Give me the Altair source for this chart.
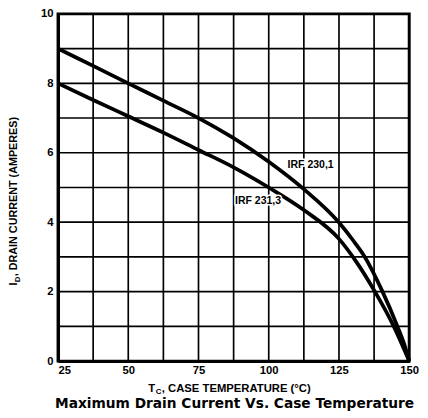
import altair as alt
import pandas as pd

# IRF 230,1 curve
upper_t = [25, 37.5, 50, 62.5, 75, 87.5, 100, 112.5, 125, 130, 134.2, 140.5, 145.8, 148.5, 150]
upper_i = [9.0, 8.5, 8.0, 7.5, 7.0, 6.42, 5.74, 4.95, 3.99, 3.48, 3.0, 2.0, 1.0, 0.42, 0.0]

# IRF 231,3 curve
lower_t = [25, 37.5, 50, 62.5, 75, 87.5, 100, 112.5, 125, 131, 137.8, 144.5, 150]
lower_i = [8.0, 7.52, 7.05, 6.58, 6.08, 5.58, 5.0, 4.35, 3.52, 2.88, 2.0, 1.0, 0.0]

curve_names = ["IRF 230,1", "IRF 231,3"]
label_t = [114.9, 96.2]
label_i = [5.66, 4.6]

x_grid = [25 + 12.5 * k for k in range(11)]
y_grid = list(range(0, 11))

y_title_main = ", DRAIN CURRENT (AMPERES)"
x_title_main = ", CASE TEMPERATURE (°C)"
caption = "Maximum Drain Current Vs. Case Temperature"

FONT = "Liberation Sans"

rows = []
for t, i in zip(upper_t, upper_i):
    rows.append({"T": t, "I": i, "curve": curve_names[0]})
for t, i in zip(lower_t, lower_i):
    rows.append({"T": t, "I": i, "curve": curve_names[1]})
df = pd.DataFrame(rows)
lab = pd.DataFrame({"T": label_t, "I": label_i, "name": curve_names})
xg = pd.DataFrame({"T": x_grid})
yg = pd.DataFrame({"I": y_grid})
one = pd.DataFrame({"a": [0]})

xs = alt.Scale(domain=[25, 150], nice=False, zero=False)
ys = alt.Scale(domain=[0, 10], nice=False, zero=True)

x_axis = alt.Axis(
    values=[25, 50, 75, 100, 125, 150],
    grid=False,
    ticks=False, domainColor="black", domainWidth=3,
    labelFont=FONT, labelFontSize=11.5, labelFontWeight="bold", labelColor="black",
    labelPadding=4, labelFlush=False,
    labelAlign={"condition": {"test": "datum.value == 25", "value": "left"}, "value": "center"},
    title=None,
)
y_axis = alt.Axis(
    values=[0, 2, 4, 6, 8, 10],
    grid=False,
    ticks=False, domainColor="black", domainWidth=3,
    labelFont=FONT, labelFontSize=11.5, labelFontWeight="bold", labelColor="black",
    labelPadding=5, labelFlush=False,
    title=None,
)

X = lambda: alt.X("T:Q", scale=xs, axis=x_axis)
Y = lambda: alt.Y("I:Q", scale=ys, axis=y_axis)

vgrid = alt.Chart(xg).mark_rule(color="black", strokeWidth=1.7).encode(x=X())
hgrid = alt.Chart(yg).mark_rule(color="black", strokeWidth=1.7).encode(y=Y())

lines = alt.Chart(df).mark_line(color="black", strokeWidth=3.8, interpolate="monotone").encode(
    x=X(), y=Y(), detail="curve:N",
)

halo = alt.Chart(lab).mark_text(font=FONT, fontSize=10.7, fontWeight="bold", color="white",
                                stroke="white", strokeWidth=3).encode(x=X(), y=Y(), text="name:N")
labels = alt.Chart(lab).mark_text(font=FONT, fontSize=10.7, fontWeight="bold", color="black").encode(
    x=X(), y=Y(), text="name:N")

# Y title (rotated) with subscript D
yt1 = alt.Chart(one).mark_text(text="I", font=FONT, fontSize=11, fontWeight="bold", color="black",
                               angle=270, align="left", baseline="middle").encode(
    x=alt.value(-45), y=alt.value(277))
yt2 = alt.Chart(one).mark_text(text="D", font=FONT, fontSize=8, fontWeight="bold", color="black",
                               angle=270, align="left", baseline="middle").encode(
    x=alt.value(-41), y=alt.value(273.5))
yt3 = alt.Chart(one).mark_text(text=y_title_main, font=FONT, fontSize=11, fontWeight="bold", color="black",
                               angle=270, align="left", baseline="middle").encode(
    x=alt.value(-45), y=alt.value(267.5))

# X title with subscript C
xt1 = alt.Chart(one).mark_text(text="T", font=FONT, fontSize=11.5, fontWeight="bold", color="black",
                               align="left", baseline="alphabetic").encode(
    x=alt.value(92), y=alt.value(386))
xt2 = alt.Chart(one).mark_text(text="C", font=FONT, fontSize=8, fontWeight="bold", color="black",
                               align="left", baseline="alphabetic").encode(
    x=alt.value(99.6), y=alt.value(388))
xt3 = alt.Chart(one).mark_text(text=x_title_main, font=FONT, fontSize=11.5, fontWeight="bold", color="black",
                               align="left", baseline="alphabetic").encode(
    x=alt.value(105.8), y=alt.value(386))

cap = alt.Chart(one).mark_text(text=caption, font="DejaVu Sans", fontSize=14, fontWeight="bold", color="black",
                               align="center", baseline="alphabetic").encode(
    x=alt.value(180), y=alt.value(402))

chart = alt.layer(vgrid, hgrid, lines, halo, labels, yt1, yt2, yt3, xt1, xt2, xt3, cap).properties(
    width=358, height=354,
    autosize=alt.AutoSizeParams(type="none"),
    padding={"left": 51, "top": 2, "right": 11, "bottom": 52},
    background="white",
).configure_view(stroke="black", strokeWidth=3)

chart.save("out.html", embed_options={"renderer": "svg", "actions": False})
